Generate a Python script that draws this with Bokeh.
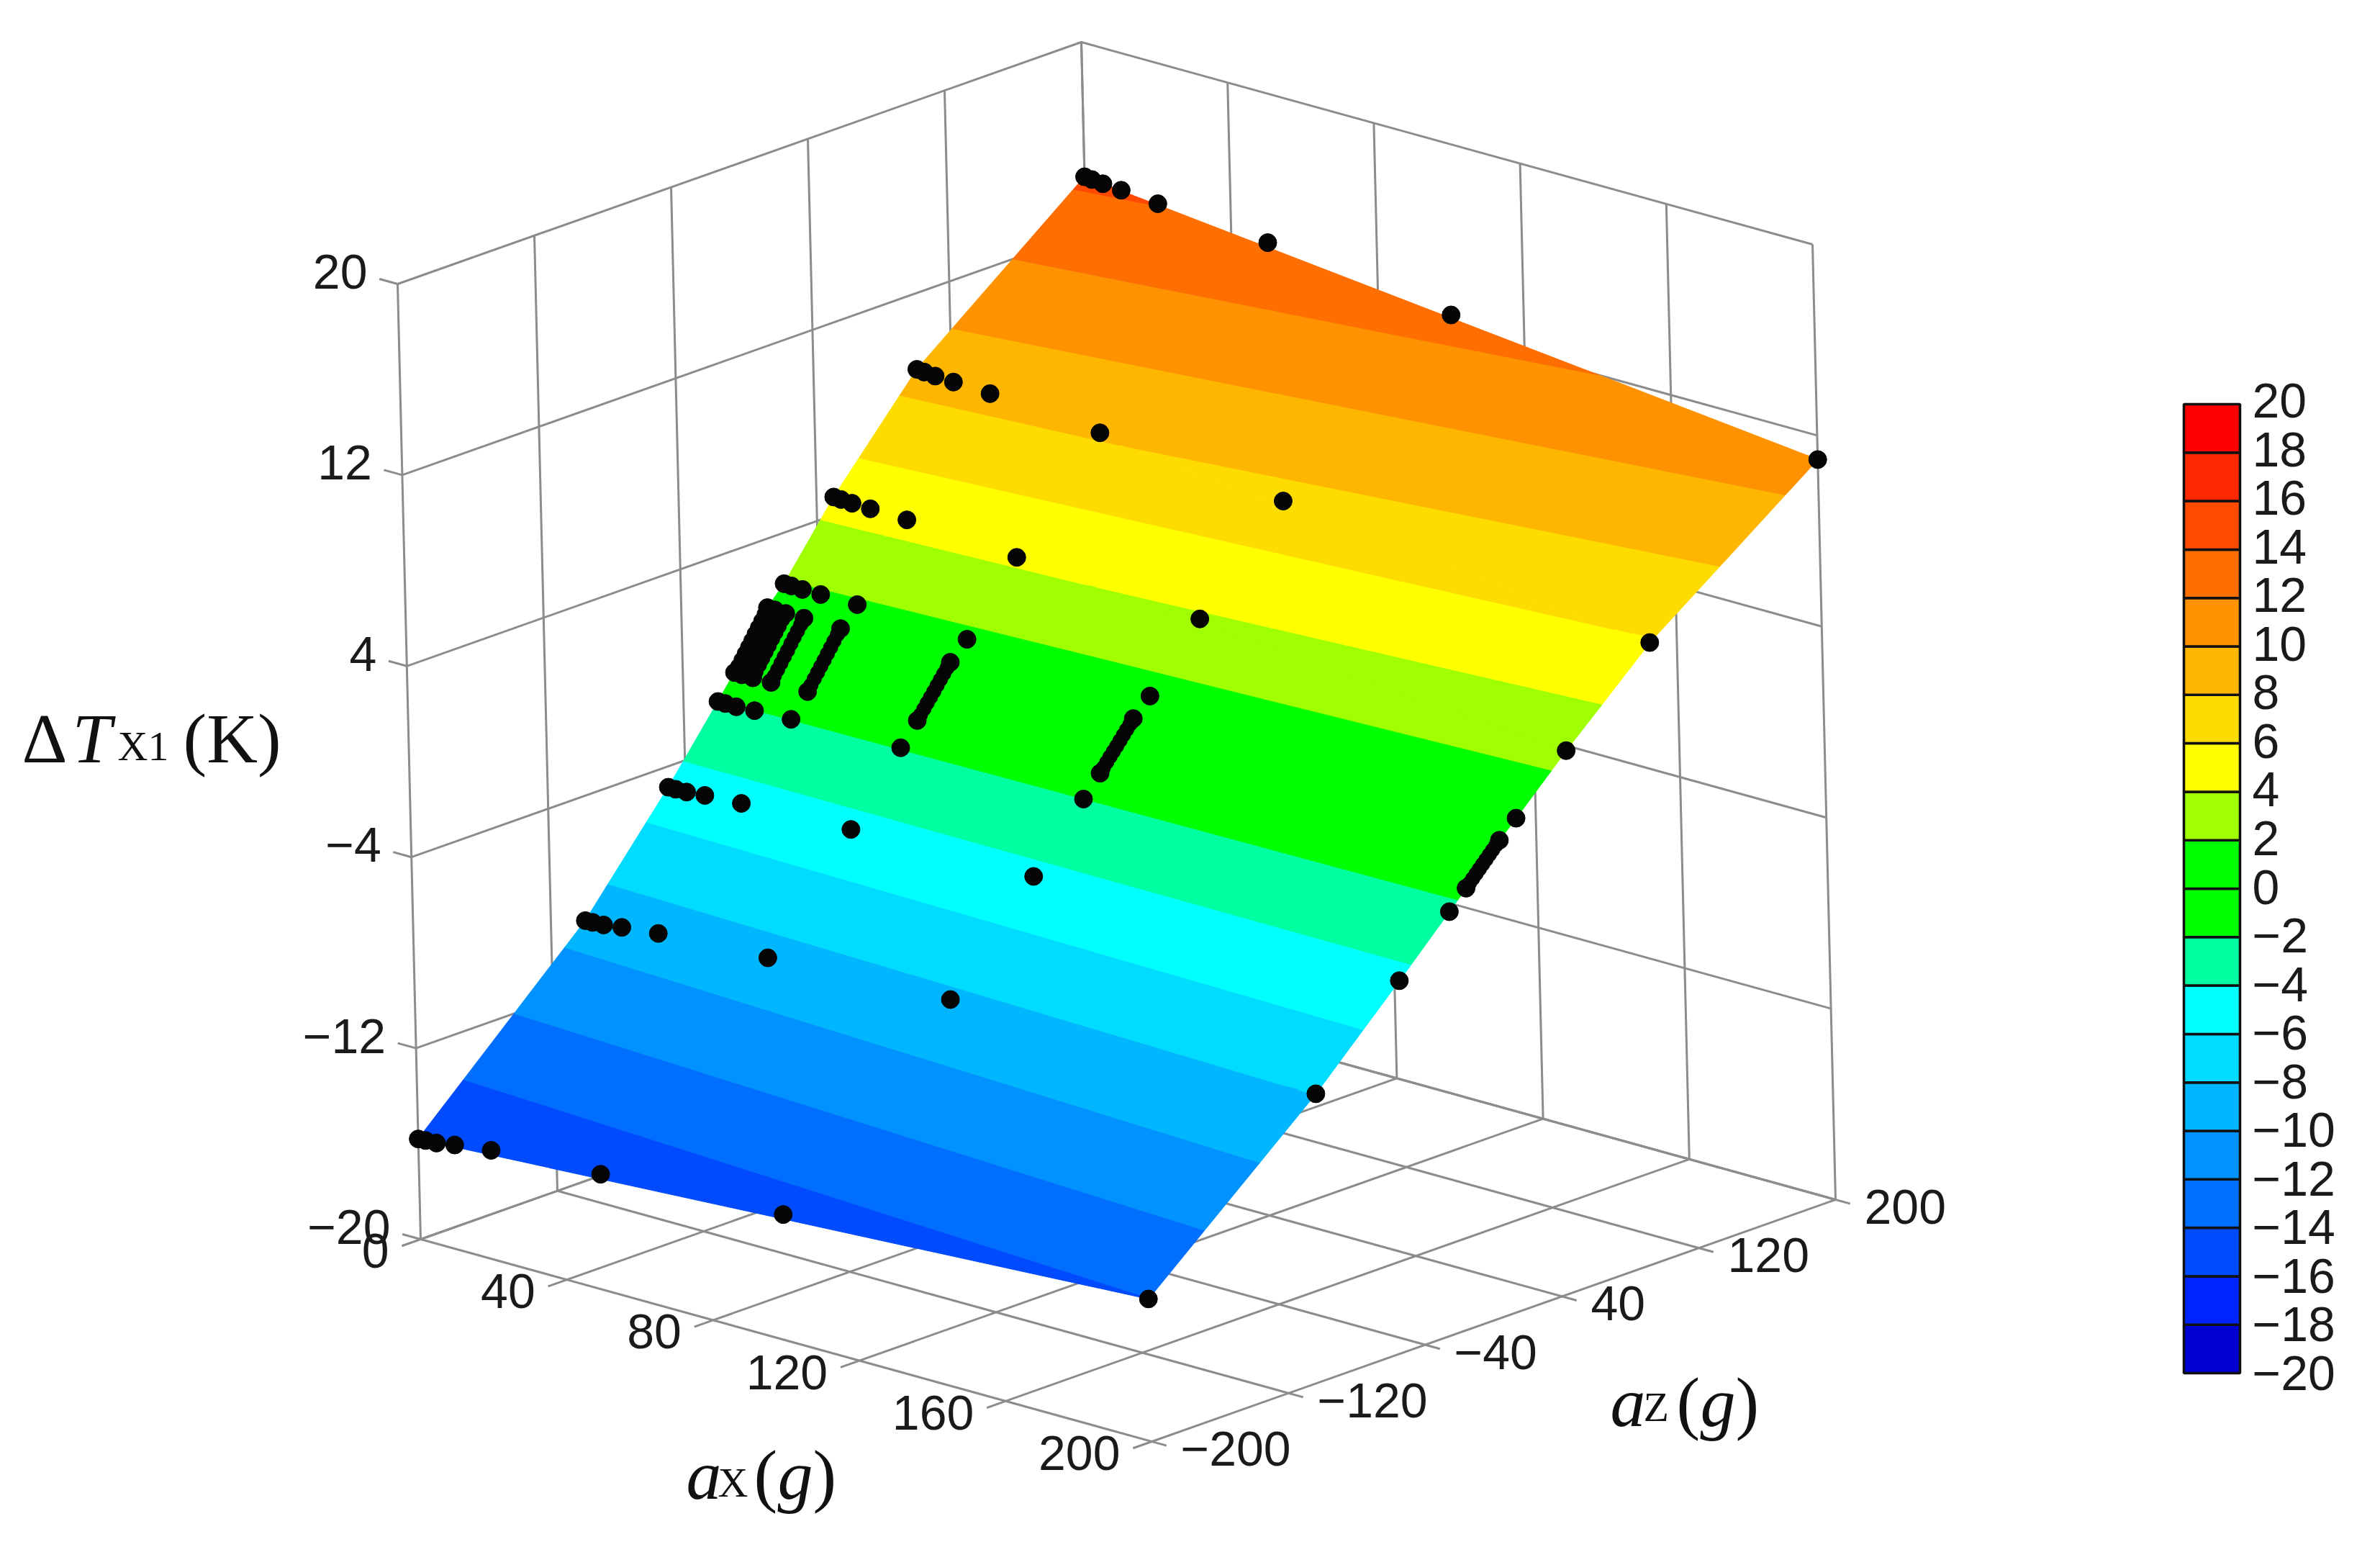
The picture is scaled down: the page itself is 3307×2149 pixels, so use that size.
from bokeh.plotting import figure
from bokeh.models import Range1d
from bokeh.core.properties import value
from bokeh.embed import file_html
from bokeh.resources import INLINE

#tick values on the three axes
ax_ticks = [0, 40, 80, 120, 160, 200]
az_ticks = [-200, -120, -40, 40, 120, 200]
dT_ticks = [-20, -12, -4, 4, 12, 20]

#contour levels and the colour of each band, lowest band first
levels = [-20, -18, -16, -14, -12, -10, -8, -6, -4, -2, 0, 2, 4, 6, 8, 10, 12, 14, 16, 18, 20]
band_colors = ["#0000D0", "#0024FF", "#004AFF", "#006EFF", "#0092FF", "#00B6FF", "#00DCFF", "#00FFFF",
               "#00FFA0", "#00FF00", "#00FF00", "#A0FF00", "#FFFF00", "#FFDC00", "#FFB600", "#FF9200",
               "#FF6E00", "#FF4A00", "#FF2800", "#FF0000"]

#the measured points: one column of dT for each ax, one row for each az
ax_values = [0, 2, 5, 10, 20, 50, 100, 200]
az_values = [200, 100, 50, 20, 10, 8, 6, 4, 2, 0, -2, -4, -6, -8, -10, -20, -50, -100, -200]
dT_ax0 = [14.36, 8.83, 4.75, 1.88, 1.13, 0.91, 0.69, 0.47, 0.25, 0.02, -0.20, -0.42, -0.64, -0.86, -1.08, -2.04, -4.87, -9.19, -15.80]
dT_ax2 = [14.33, 8.80, 4.73, 1.87, 1.12, 0.90, 0.68, 0.46, 0.24, 0.01, -0.21, -0.43, -0.65, -0.87, -1.09, -2.04, -4.87, -9.18, -15.78]
dT_ax5 = [14.28, 8.76, 4.70, 1.85, 1.10, 0.88, 0.66, 0.44, 0.23, 0.00, -0.22, -0.44, -0.66, -0.88, -1.09, -2.05, -4.86, -9.16, -15.76]
dT_ax10 = [14.22, 8.72, 4.68, 1.85, 1.11, 0.89, 0.67, 0.46, 0.24, 0.01, -0.20, -0.42, -0.64, -0.85, -1.07, -2.00, -4.79, -9.05, -15.63]
dT_ax20 = [14.08, 8.66, 4.64, 1.85, 1.10, 0.89, 0.68, 0.46, 0.25, 0.03, -0.18, -0.39, -0.60, -0.81, -1.03, -1.94, -4.70, -8.88, -15.43]
dT_ax50 = [13.72, 8.29, 4.34, 1.67, 0.96, 0.77, 0.58, 0.39, 0.19, -0.01, -0.20, -0.39, -0.59, -0.78, -0.97, -1.86, -4.52, -8.63, -15.16]
dT_ax100 = [12.81, 7.55, 3.88, 1.41, 0.72, 0.53, 0.36, 0.18, 0.00, -0.18, -0.35, -0.52, -0.70, -0.88, -1.06, -1.89, -4.37, -8.26, -14.73]
dT_ax200 = [10.99, 5.86, 2.60, 0.53, -0.14, -0.29, -0.44, -0.59, -0.74, -0.89, -1.04, -1.19, -1.34, -1.49, -1.64, -2.37, -4.50, -7.97, -14.03]
dT_columns = [dT_ax0, dT_ax2, dT_ax5, dT_ax10, dT_ax20, dT_ax50, dT_ax100, dT_ax200]

GREY = "#8C8C8C"
TICK_FONT = value("Liberation Sans")
SERIF = value("Liberation Serif")


def project(ax, az, dT):
    #the box is seen without perspective, so this is a plain oblique projection
    fx = ax / 200
    fz = (az + 200) / 400
    g = (dT + 20) / 40
    return (584 + 1016 * fx + 950 * fz - 32 * g, 1721 + 281 * fx - 336 * fz - 1327 * g)


def cbar_y(level):
    return 561 + (20 - level) / 40 * 1346


def clip(poly, level, keep_above):
    out = []
    for i in range(len(poly)):
        a = poly[i]
        b = poly[(i + 1) % len(poly)]
        a_in = a[2] >= level if keep_above else a[2] <= level
        b_in = b[2] >= level if keep_above else b[2] <= level
        if a_in:
            out.append(a)
        if a_in != b_in:
            t = (level - a[2]) / (b[2] - a[2])
            out.append((a[0] + t * (b[0] - a[0]), a[1] + t * (b[1] - a[1]), level))
    return out


p = figure(width=3291, height=2133, x_range=Range1d(0, 3291), y_range=Range1d(2133, 0),
           x_axis_type=None, y_axis_type=None, toolbar_location=None, output_backend="svg",
           min_border=0, outline_line_color=None, background_fill_color="white")

#wireframe: the two back walls, the floor and the little tick stubs
wire = []
for az in az_ticks:
    wire.append([project(0, az, -20), project(0, az, 20)])
    wire.append([project(0, az, -20), project(204, az, -20)])
for ax in ax_ticks:
    wire.append([project(ax, 200, -20), project(ax, 200, 20)])
    wire.append([project(ax, -211, -20), project(ax, 200, -20)])
for dT in dT_ticks:
    wire.append([project(-5, -200, dT), project(0, -200, dT), project(0, 200, dT), project(200, 200, dT)])
p.multi_line([[pt[0] for pt in line] for line in wire], [[pt[1] for pt in line] for line in wire],
             line_color=GREY, line_width=3)

#the contour bands, cut cell by cell out of the outer columns of the table
band_xs = []
band_ys = []
band_fill = []
for i in range(len(az_values) - 1):
    cell = [(0, az_values[i], dT_ax0[i]), (200, az_values[i], dT_ax200[i]),
            (200, az_values[i + 1], dT_ax200[i + 1]), (0, az_values[i + 1], dT_ax0[i + 1])]
    for b in range(len(band_colors)):
        poly = clip(cell, levels[b], True)
        if poly:
            poly = clip(poly, levels[b + 1], False)
        if len(poly) > 2:
            pts = [project(*v) for v in poly]
            band_xs.append([pt[0] for pt in pts])
            band_ys.append([pt[1] for pt in pts])
            band_fill.append(band_colors[b])
p.patches(band_xs, band_ys, fill_color=band_fill, line_color=band_fill, line_width=1.2)

#measured points, the closely spaced rows are a bit thinner
pt_x = []
pt_y = []
pt_size = []
for j in range(len(ax_values)):
    for i in range(len(az_values)):
        x, y = project(ax_values[j], az_values[i], dT_columns[j][i])
        pt_x.append(x)
        pt_y.append(y)
        pt_size.append(20 if abs(az_values[i]) < 10 else 25)
p.scatter(pt_x, pt_y, size=pt_size, color="#050505")


def label(s):
    return str(s).replace("-", "\u2212")


#tick labels
x = [project(0, -200, t)[0] - 42 for t in dT_ticks]
y = [project(0, -200, t)[1] - 17 for t in dT_ticks]
p.text(x, y, text=[label(t) for t in dT_ticks], text_font=TICK_FONT, text_font_size="68px",
       text_align="right", text_baseline="middle", text_color="#1A1A1A")
x = [project(t, -200, -20)[0] - 44 for t in ax_ticks]
y = [project(t, -200, -20)[1] + 16 for t in ax_ticks]
p.text(x, y, text=[label(t) for t in ax_ticks], text_font=TICK_FONT, text_font_size="68px",
       text_align="right", text_baseline="middle", text_color="#1A1A1A")
x = [project(200, t, -20)[0] + 40 for t in az_ticks]
y = [project(200, t, -20)[1] + 10 for t in az_ticks]
p.text(x, y, text=[label(t) for t in az_ticks], text_font=TICK_FONT, text_font_size="68px",
       text_align="left", text_baseline="middle", text_color="#1A1A1A")

#colour bar on the right
p.quad(left=3034, right=3112, top=[cbar_y(l) for l in levels[1:]], bottom=[cbar_y(l) for l in levels[:-1]],
       fill_color=band_colors, line_color="#111111", line_width=3.5)
p.text(3129, [556 + (20 - l) / 40 * 1351 for l in levels], text=[label(l) for l in levels],
       text_font=TICK_FONT, text_font_size="68px", text_align="left", text_baseline="middle", text_color="#1A1A1A")

#axis titles, put together piece by piece: x, baseline, text, size, style
title_pieces = [
    (30, 1025, "\u0394", 98, "normal"), (100, 1025, "T", 98, "italic"), (163, 1036, "X1", 58, "normal"),
    (254, 1025, "(K)", 98, "normal"),
    (953, 2048, "a", 98, "italic"), (997, 2059, "X", 58, "normal"), (1047, 2048, "(", 98, "normal"),
    (1080, 2048, "g", 98, "italic"), (1129, 2048, ")", 98, "normal"),
    (2237, 1947, "a", 98, "italic"), (2283, 1954, "Z", 58, "normal"), (2329, 1947, "(", 98, "normal"),
    (2362, 1947, "g", 98, "italic"), (2411, 1947, ")", 98, "normal"),
]
for px, py, s, size, style in title_pieces:
    p.text([px], [py], text=[s], text_font=SERIF, text_font_size=str(size) + "px", text_font_style=style,
           text_align="left", text_baseline="alphabetic", text_color="#111111")

open("out.html", "w").write(file_html(p, INLINE))
